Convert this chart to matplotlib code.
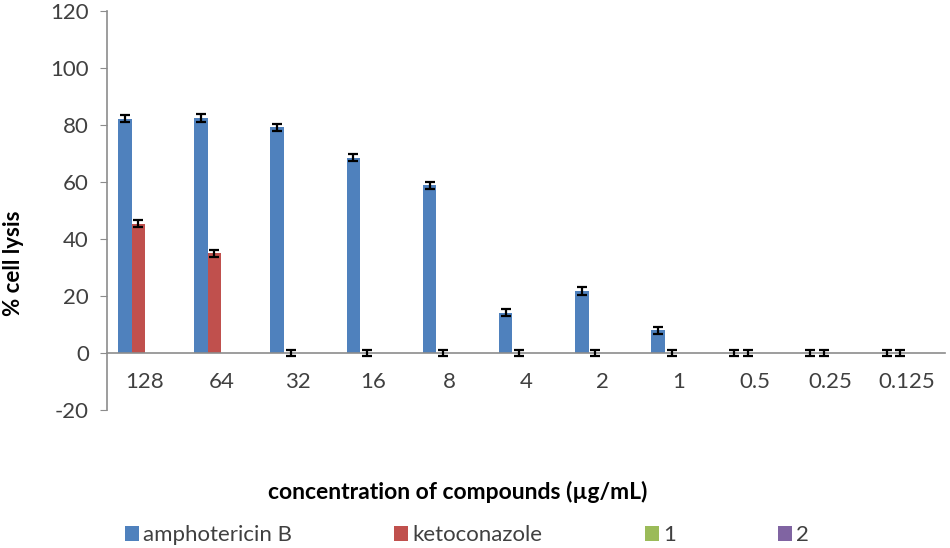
import matplotlib
matplotlib.use("Agg")
import matplotlib.pyplot as plt
import numpy as np
from matplotlib.patches import Patch

categories = ["128", "64", "32", "16", "8", "4", "2", "1", "0.5", "0.25", "0.125"]
series_names = ["amphotericin B", "ketoconazole", "1", "2"]
amphotericin = [82.2, 82.5, 79.2, 68.6, 58.8, 14.2, 21.8, 8.0, 0, 0, 0]
amphotericin_err = [1.2, 1.3, 1.2, 1.2, 1.2, 1.3, 1.3, 1.3, 1.0, 1.0, 1.0]
ketoconazole = [45.3, 35.0, 0, 0, 0, 0, 0, 0, 0, 0, 0]
ketoconazole_err = [1.2, 1.2, 1.0, 1.0, 1.0, 1.0, 1.0, 1.0, 1.0, 1.0, 1.0]
compound1 = [0] * 11
compound2 = [0] * 11
colors = ["#4F81BD", "#C0504D", "#9BBB59", "#8064A2"]

plt.rcParams['font.family'] = ['Lato', 'DejaVu Sans']
plt.rcParams['axes.unicode_minus'] = False

fig = plt.figure(figsize=(9.5, 5.48), dpi=100)
ax = fig.add_axes([0.1126, 0.2518, 0.882, 0.7281])

x = np.arange(len(categories))
w = 0.177
vals = [amphotericin, ketoconazole, compound1, compound2]
errs = [amphotericin_err, ketoconazole_err, None, None]
for i, (v, e, c) in enumerate(zip(vals, errs, colors)):
    pos = x + (i - 1.5) * w
    ax.bar(pos, v, width=w, color=c, zorder=2)
    if e is not None:
        ax.errorbar(pos, v, yerr=e, fmt='none', ecolor='black', elinewidth=1.6,
                    capsize=3.5, capthick=1.6, zorder=3)

ax.set_xlim(-0.5, len(categories) - 0.5)
ax.set_ylim(-20, 120)
ax.set_yticks(range(-20, 121, 20))
ax.set_xticks(x)
ax.set_xticklabels(categories)

for s in ['top', 'right']:
    ax.spines[s].set_visible(False)
ax.spines['bottom'].set_position(('data', 0))
ax.spines['bottom'].set_color('#8c8c8c')
ax.spines['left'].set_color('#8c8c8c')
ax.spines['bottom'].set_linewidth(1.2)
ax.spines['left'].set_linewidth(1.2)
ax.tick_params(axis='y', direction='out', length=5, color='#8c8c8c', labelsize=16,
               labelcolor='#404040', pad=8)
ax.tick_params(axis='x', length=0, labelsize=16, labelcolor='#404040', pad=14)

fig.text(0.014, 0.52, "% cell lysis", rotation=90, ha='center', va='center',
         fontsize=16, fontweight='bold', color='black')
fig.text(0.482, 0.102, "concentration of compounds (µg/mL)", ha='center', va='center',
         fontsize=16.5, fontweight='bold', color='black')

handles = [Patch(facecolor=c) for c in colors]
leg = fig.legend(handles, series_names, loc='center left', bbox_to_anchor=(125 / 950, 0.023),
                 ncol=4, frameon=False, fontsize=16, handlelength=0.62, handleheight=0.62,
                 handletextpad=0.2, columnspacing=4.6, borderpad=0, borderaxespad=0)
for t in leg.get_texts():
    t.set_color('#404040')

fig.savefig("out.png", dpi=100)
